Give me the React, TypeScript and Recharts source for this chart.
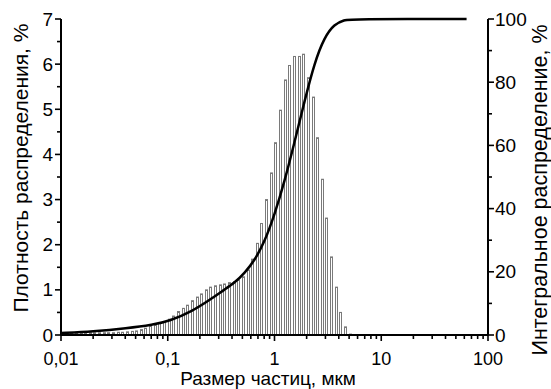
import { ComposedChart, Bar, Line, XAxis, YAxis } from 'recharts';

// particle size classes, µm
const sizes = [
  0.01044, 0.01154, 0.01275, 0.01409, 0.01558, 0.01722, 0.01903, 0.02103, 0.02324, 0.02569,
  0.02839, 0.03138, 0.03468, 0.03833, 0.04236, 0.04682, 0.05175, 0.05719, 0.06321, 0.06986,
  0.07721, 0.08534, 0.09436, 0.1043, 0.1152, 0.1274, 0.1408, 0.1556, 0.172, 0.1901,
  0.2101, 0.2323, 0.2567, 0.2837, 0.3135, 0.3466, 0.3831, 0.4233, 0.4679, 0.5172,
  0.5716, 0.6318, 0.6982, 0.7717, 0.8529, 0.9428, 1.042, 1.152, 1.273, 1.407,
  1.555, 1.719, 1.9, 2.1, 2.321, 2.564, 2.835, 3.133, 3.463, 3.827,
  4.23, 4.675, 5.168,
];

// density, %
const density = [
  0.04, 0.04, 0.04, 0.04, 0.05, 0.05, 0.05, 0.05, 0.05, 0.05,
  0.05, 0.05, 0.06, 0.06, 0.07, 0.08, 0.09, 0.12, 0.15, 0.19,
  0.22, 0.26, 0.3, 0.35, 0.42, 0.52, 0.59, 0.66, 0.76, 0.84,
  0.91, 1.0, 1.06, 1.09, 1.11, 1.13, 1.16, 1.18, 1.22, 1.29,
  1.44, 1.68, 2.03, 2.47, 3.0, 3.59, 4.26, 4.98, 5.65, 5.97,
  6.17, 6.17, 6.22, 5.7, 5.27, 4.37, 3.45, 2.59, 1.73, 1.06,
  0.5, 0.18, 0.02,
];

// integral curve
const cumSizes = [0.01, 0.0199, 0.0414, 0.0724, 0.104, 0.171, 0.247, 0.341, 0.422, 0.525, 0.65, 0.806, 1.0, 1.24, 1.54, 1.91, 2.37, 2.94, 3.64, 4.52, 5.2, 63];
const cumValues = [0.6, 1.1, 2.1, 3.2, 4.4, 7.6, 11.1, 14.4, 16.5, 19.6, 23.6, 29.4, 38, 48.5, 61, 74, 86.2, 94.3, 98.4, 99.7, 100, 100];

const xMajor = [0.01, 0.1, 1, 10, 100];
const xLabels = ['0,01', '0,1', '1', '10', '100'];
const leftTicks = [0, 0.5, 1, 1.5, 2, 2.5, 3, 3.5, 4, 4.5, 5, 5.5, 6, 6.5, 7];
const rightTicks = [0, 10, 20, 30, 40, 50, 60, 70, 80, 90, 100];

const FONT = '"Liberation Sans", Arial, sans-serif';

const barData = sizes.map((s, i) => ({ size: s, density: density[i] }));
const lineData = cumSizes.map((s, i) => ({ size: s, cum: cumValues[i] }));

const xTicks: number[] = [];
xMajor.forEach((d, k) => {
  xTicks.push(d);
  if (k < xMajor.length - 1) {
    for (let m = 2; m <= 9; m++) xTicks.push(+(d * m).toPrecision(3));
  }
});

const XTick = (props: any) => {
  const { x, y, payload } = props;
  const idx = xMajor.indexOf(payload.value);
  const major = idx >= 0;
  return (
    <g>
      <line x1={x} x2={x} y1={y} y2={y + (major ? 6 : 4)} stroke="#000" strokeWidth={1.6} />
      {major && (
        <text x={x} y={y + 30} textAnchor="middle" fontSize={18} fontFamily={FONT} fill="#000">
          {xLabels[idx]}
        </text>
      )}
    </g>
  );
};

const LeftTick = (props: any) => {
  const { x, y, payload } = props;
  const major = Number.isInteger(payload.value);
  return (
    <g>
      <line x1={x - (major ? 6 : 4)} x2={x} y1={y} y2={y} stroke="#000" strokeWidth={1.6} />
      {major && (
        <text x={x - 8} y={y + 6.5} textAnchor="end" fontSize={19} fontFamily={FONT} fill="#000">
          {payload.value}
        </text>
      )}
    </g>
  );
};

const RightTick = (props: any) => {
  const { x, y, payload } = props;
  const major = payload.value % 20 === 0;
  return (
    <g>
      <line x1={x} x2={x + (major ? 6 : 4)} y1={y} y2={y} stroke="#000" strokeWidth={1.6} />
      {major && (
        <text x={x + 7} y={y + 6.5} textAnchor="start" fontSize={19} fontFamily={FONT} fill="#000">
          {payload.value}
        </text>
      )}
    </g>
  );
};

const BarShape = (props: any) => {
  const { x, y, width, height } = props;
  if (!height || height <= 0) return <g />;
  const cx = x + width / 2;
  const left = Math.round(cx - 1) - 0.5;
  return <rect x={left} y={y} width={2} height={height} fill="#fff" stroke="#7a7a7a" strokeWidth={1} />;
};

export default function App() {
  return (
    <div style={{ position: 'absolute', left: 0, top: 0, background: '#fff' }}>
      <ComposedChart width={551} height={389} data={barData} margin={{ top: 19, right: 0, bottom: 0, left: 0 }}>
        <XAxis
          dataKey="size"
          type="number"
          scale="log"
          domain={[0.01, 100]}
          ticks={xTicks}
          interval={0}
          allowDataOverflow
          height={54}
          tickSize={0}
          tickMargin={0}
          tick={<XTick />}
          axisLine={{ stroke: '#000', strokeWidth: 2 }}
          label={{
            content: () => (
              <text x={268} y={385} textAnchor="middle" fontSize={19} fontFamily={FONT} fill="#000">
                Размер частиц, мкм
              </text>
            ),
          }}
        />
        <YAxis
          yAxisId="left"
          orientation="left"
          width={61}
          domain={[0, 7]}
          ticks={leftTicks}
          interval={0}
          tickSize={0}
          tickMargin={0}
          tick={<LeftTick />}
          axisLine={{ stroke: '#000', strokeWidth: 2 }}
          label={{
            content: () => (
              <text
                x={20}
                y={168}
                transform="rotate(-90 20 168)"
                textAnchor="middle"
                dominantBaseline="central"
                fontSize={21}
                fontFamily={FONT}
                fill="#000"
              >
                Плотность распределения, %
              </text>
            ),
          }}
        />
        <YAxis
          yAxisId="right"
          orientation="right"
          width={63}
          domain={[0, 100]}
          ticks={rightTicks}
          interval={0}
          tickSize={0}
          tickMargin={0}
          tick={<RightTick />}
          axisLine={{ stroke: '#000', strokeWidth: 2 }}
          label={{
            content: () => (
              <text
                x={540}
                y={190}
                transform="rotate(-90 540 190)"
                textAnchor="middle"
                dominantBaseline="central"
                fontSize={21.5}
                fontFamily={FONT}
                fill="#000"
              >
                Интегральное распределение, %
              </text>
            ),
          }}
        />
        <Bar yAxisId="left" dataKey="density" barSize={3} shape={<BarShape />} isAnimationActive={false} />
        <Line
          yAxisId="right"
          data={lineData}
          dataKey="cum"
          type="basis"
          stroke="#000"
          strokeWidth={2.5}
          dot={false}
          activeDot={false}
          isAnimationActive={false}
        />
      </ComposedChart>
    </div>
  );
}
